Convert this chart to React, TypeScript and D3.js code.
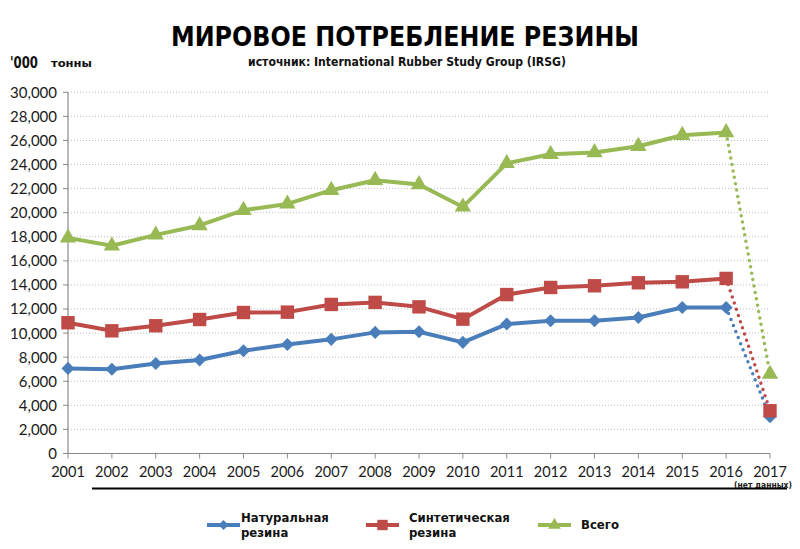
import * as d3 from "d3"

const years = ["2001", "2002", "2003", "2004", "2005", "2006", "2007", "2008", "2009", "2010", "2011", "2012", "2013", "2014", "2015", "2016", "2017"]
const natural = [7070, 7000, 7480, 7760, 8530, 9060, 9480, 10060, 10110, 9230, 10750, 11020, 11020, 11300, 12130, 12130, 3050]
const synthetic = [10860, 10190, 10610, 11130, 11710, 11740, 12380, 12550, 12180, 11160, 13200, 13790, 13930, 14180, 14260, 14540, 3550]
const total = [17910, 17250, 18160, 18940, 20210, 20730, 21870, 22700, 22340, 20480, 24100, 24850, 25000, 25520, 26430, 26660, 6600]
const yTicks = [0, 2000, 4000, 6000, 8000, 10000, 12000, 14000, 16000, 18000, 20000, 22000, 24000, 26000, 28000, 30000]

const title = "МИРОВОЕ ПОТРЕБЛЕНИЕ РЕЗИНЫ"
const subtitle = "источник: International Rubber Study Group (IRSG)"

const series = [
  { name: ["Натуральная", "резина"], values: natural, color: "#4a7ebb", marker: "diamond" },
  { name: ["Синтетическая", "резина"], values: synthetic, color: "#be4b48", marker: "square" },
  { name: ["Всего"], values: total, color: "#98b954", marker: "triangle" },
]

const condensed = "'Liberation Sans Narrow', 'DejaVu Sans Condensed', 'Roboto', sans-serif"
const tickFont = "Lato, 'Open Sans', sans-serif"

function markerPath(kind: string, scale = 1) {
  if (kind === "diamond") return d3.symbol(d3.symbolSquare, 85 * scale)()!
  if (kind === "square") return d3.symbol(d3.symbolSquare, 180 * scale)()!
  return d3.symbol(d3.symbolTriangle, 115 * scale)()!
}

export default function App() {
  const width = 800
  const height = 549

  const x = d3.scalePoint<string>().domain(years).range([68, 770])
  const y = d3.scaleLinear().domain([0, 30000]).range([453.5, 92.3])

  const line = d3
    .line<number>()
    .x((_, i) => x(years[i])!)
    .y((d) => y(d))

  const last = years.length - 1

  // легенда
  const legend = [
    { x0: 207, tx: 241 },
    { x0: 366, tx: 409 },
    { x0: 538, tx: 581 },
  ]

  return (
    <div style={{ position: "fixed", left: 0, top: 0 }}>
      <svg width={width} height={height} style={{ display: "block", background: "#fff" }}>
        <text x={405} y={46} textAnchor="middle" fontFamily={condensed} fontWeight="bold" fontSize={27} textLength={468} lengthAdjust="spacingAndGlyphs" fill="#000">
          {title}
        </text>
        <text x={407} y={66} textAnchor="middle" fontFamily={condensed} fontWeight="bold" fontSize={12} textLength={318} lengthAdjust="spacingAndGlyphs" fill="#111">
          {subtitle}
        </text>
        <text x={10} y={68} fontFamily={condensed} fontWeight="bold" fontSize={15} textLength={28} lengthAdjust="spacingAndGlyphs" fill="#111">
          '000
        </text>
        <text x={51} y={67} fontFamily={condensed} fontWeight="bold" fontSize={11} textLength={41} lengthAdjust="spacingAndGlyphs" fill="#111">
          тонны
        </text>

        {/* сетка */}
        {yTicks
          .filter((t) => t > 0)
          .map((t) => (
            <line key={t} x1={68} x2={770} y1={y(t)} y2={y(t)} stroke="#bdbdbd" strokeWidth={1} strokeDasharray="1,2" />
          ))}

        {/* ось Y */}
        <line x1={68} x2={68} y1={y(30000)} y2={y(0)} stroke="#8a8a8a" strokeWidth={1.2} />
        {yTicks.map((t) => (
          <g key={t}>
            <line x1={63} x2={68} y1={y(t)} y2={y(t)} stroke="#8a8a8a" />
            <text x={57} y={y(t)} dy="0.36em" textAnchor="end" fontFamily={tickFont} fontSize={15} fill="#1a1a1a">
              {d3.format(",")(t)}
            </text>
          </g>
        ))}

        {/* ось X */}
        <line x1={68} x2={770} y1={y(0)} y2={y(0)} stroke="#8a8a8a" strokeWidth={1.2} />
        {years.map((yr) => (
          <g key={yr}>
            <line x1={x(yr)} x2={x(yr)} y1={y(0)} y2={y(0) + 5} stroke="#8a8a8a" />
            <text x={x(yr)} y={477} textAnchor="middle" fontFamily={tickFont} fontSize={14.5} fill="#1a1a1a">
              {yr}
            </text>
          </g>
        ))}
        <text x={763} y={488} textAnchor="middle" fontFamily={condensed} fontWeight="bold" fontSize={8.5} textLength={58} lengthAdjust="spacingAndGlyphs" fill="#222">
          (нет данных)
        </text>
        <line x1={92} x2={787} y1={488.5} y2={488.5} stroke="#000" strokeWidth={2} />

        {/* линии */}
        {series.map((s) => (
          <g key={s.color}>
            <path d={line(s.values.slice(0, last))!} fill="none" stroke={s.color} strokeWidth={4} strokeLinejoin="round" />
            <path
              d={d3
                .line<number>()
                .x((_, i) => x(years[last - 1 + i])!)
                .y((d) => y(d))(s.values.slice(last - 1))!}
              fill="none"
              stroke={s.color}
              strokeWidth={3.5}
              strokeLinecap="round"
              strokeDasharray="0,6.5"
            />
            {s.values.map((v, i) => (
              <path
                key={i}
                d={markerPath(s.marker)}
                transform={`translate(${x(years[i])},${y(v)})${s.marker === "diamond" ? " rotate(45)" : ""}`}
                fill={s.color}
              />
            ))}
          </g>
        ))}

        {/* легенда */}
        {series.map((s, i) => {
          const l = legend[i]
          return (
            <g key={s.color}>
              <line x1={l.x0} x2={l.x0 + 33} y1={525} y2={525} stroke={s.color} strokeWidth={4} />
              <path
                d={markerPath(s.marker, 0.6)}
                transform={`translate(${l.x0 + 16.5},525)${s.marker === "diamond" ? " rotate(45)" : ""}`}
                fill={s.color}
              />
              {s.name.length === 2 ? (
                <>
                  <text x={l.tx} y={522} fontFamily={condensed} fontWeight="bold" fontSize={13} fill="#111">
                    {s.name[0]}
                  </text>
                  <text x={l.tx} y={537} fontFamily={condensed} fontWeight="bold" fontSize={13} fill="#111">
                    {s.name[1]}
                  </text>
                </>
              ) : (
                <text x={l.tx} y={529} fontFamily={condensed} fontWeight="bold" fontSize={13} fill="#111">
                  {s.name[0]}
                </text>
              )}
            </g>
          )
        })}
      </svg>
    </div>
  )
}
